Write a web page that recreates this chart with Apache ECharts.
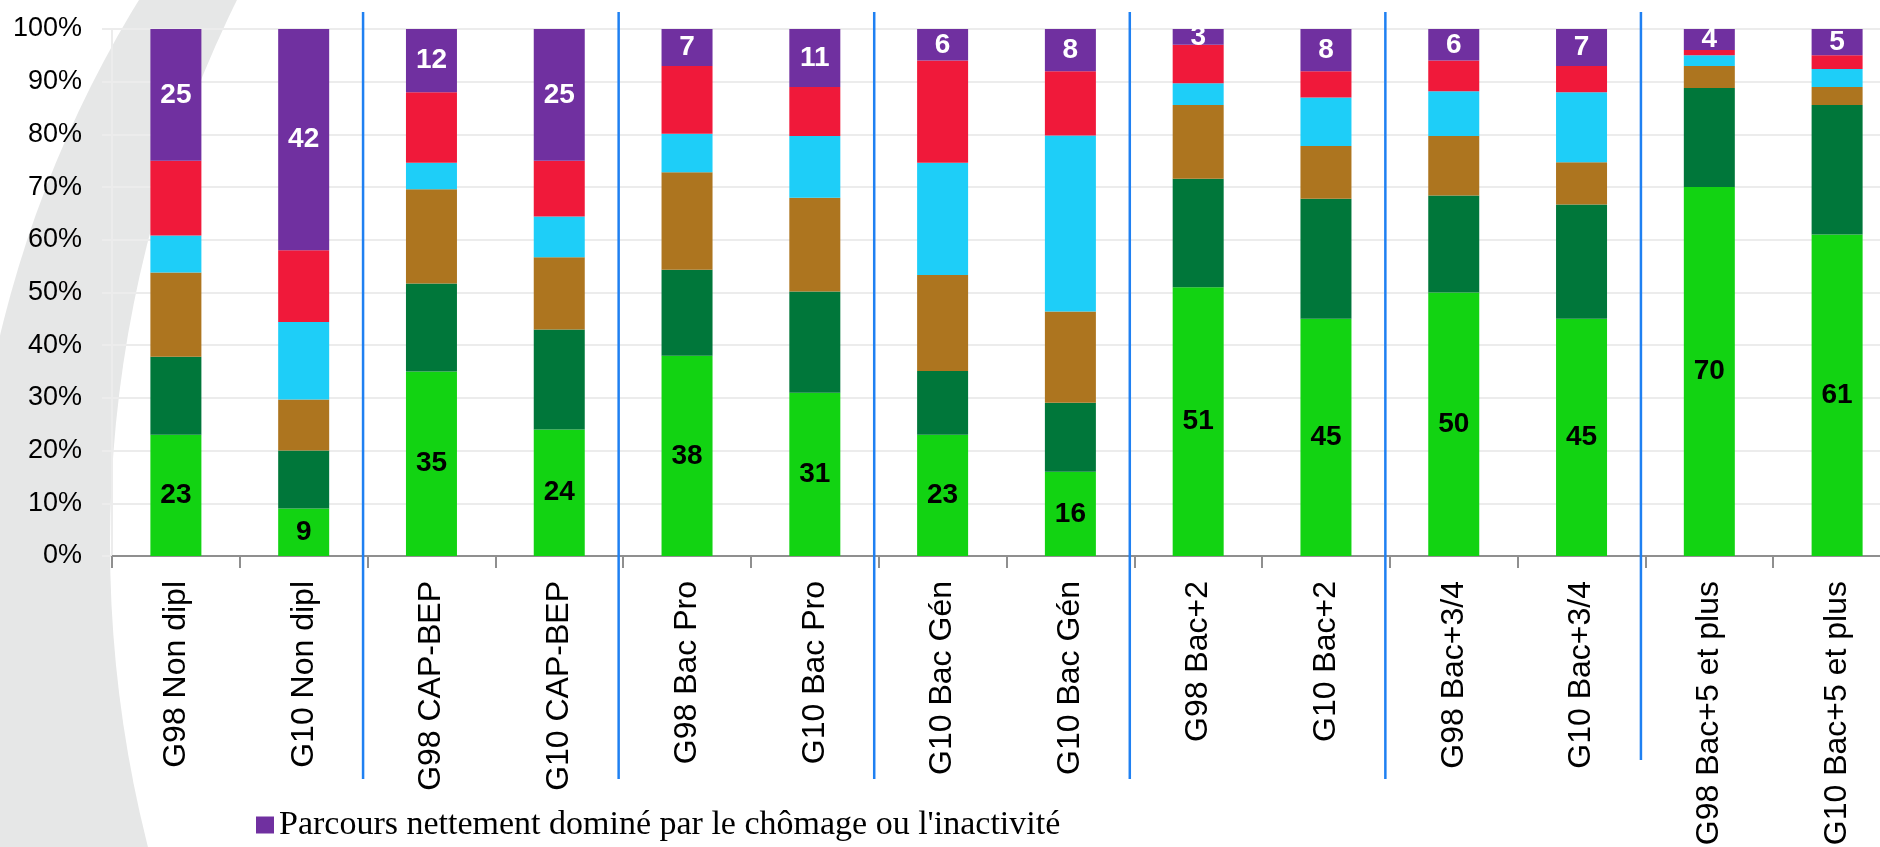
<!DOCTYPE html>
<html>
<head>
<meta charset="utf-8">
<script src="https://cdn.jsdelivr.net/npm/echarts@6/dist/echarts.min.js"></script>
<style>
  html, body { margin: 0; padding: 0; background: #ffffff; }
  #chart { width: 1880px; height: 847px; }
</style>
</head>
<body>
<div id="chart"></div>
<script>
// Diplômes par génération (G98 / G10)
const categories = [
  'G98 Non dipl', 'G10 Non dipl',
  'G98 CAP-BEP', 'G10 CAP-BEP',
  'G98 Bac Pro', 'G10 Bac Pro',
  'G10 Bac Gén', 'G10 Bac Gén',
  'G98 Bac+2', 'G10 Bac+2',
  'G98 Bac+3/4', 'G10 Bac+3/4',
  'G98 Bac+5 et plus', 'G10 Bac+5 et plus'
];

// Parts (%) de chaque type de parcours, du bas vers le haut de chaque barre
const accesRapide   = [23, 9, 35, 24, 38, 31, 23, 16, 51, 45, 50, 45, 70, 61];
const accesProgressif = [14.8, 11.0, 16.7, 19.0, 16.3, 19.2, 12.1, 13.1, 20.6, 22.8, 18.4, 21.7, 18.8, 24.6];
const sortieEmploi  = [16.0, 9.7, 17.9, 13.7, 18.5, 17.8, 18.2, 17.3, 14.0, 10.0, 11.3, 8.0, 4.2, 3.4];
const retourFormation = [7.0, 14.7, 5.0, 7.7, 7.3, 11.7, 21.3, 33.4, 4.1, 9.2, 8.5, 13.3, 2.0, 3.4];
const chomageRecurrent = [14.2, 13.6, 13.4, 10.6, 12.9, 9.3, 19.4, 12.2, 7.3, 5.0, 5.8, 5.0, 1.0, 2.6];
const chomageInactivite = [25, 42, 12, 25, 7, 11, 6, 8, 3, 8, 6, 7, 4, 5];

// Graduations de l'axe des ordonnées
const yTicks = [0, 10, 20, 30, 40, 50, 60, 70, 80, 90, 100];

// Séparateurs entre niveaux de diplôme (après l'indice de catégorie)
const groupBreaks = [1, 3, 5, 7, 9, 11];

const seriesDefs = [
  { name: "Accès rapide et durable à l'emploi", data: accesRapide, color: '#12d312', label: '#000000' },
  { name: "Accès progressif à l'emploi", data: accesProgressif, color: '#00773a' },
  { name: "Sortie de l'emploi", data: sortieEmploi, color: '#ad751f' },
  { name: 'Retour en formation', data: retourFormation, color: '#1ecef8' },
  { name: 'Chômage récurrent', data: chomageRecurrent, color: '#f0193a' },
  { name: "Parcours nettement dominé par le chômage ou l'inactivité", data: chomageInactivite, color: '#7030a0', label: '#ffffff' }
];

const sans = "'Liberation Sans Narrow', 'Arial Narrow', 'Liberation Sans', Arial, sans-serif";

const chart = echarts.init(document.getElementById('chart'), null, { renderer: 'canvas' });

const series = seriesDefs.map(s => ({
  name: s.name,
  type: 'bar',
  stack: 'total',
  barWidth: 51,
  data: s.data,
  itemStyle: { color: s.color },
  label: s.label ? {
    show: true,
    position: 'inside',
    color: s.label,
    fontFamily: sans,
    fontWeight: 'bold',
    fontSize: 28,
    formatter: p => String(Math.round(p.value))
  } : { show: false }
}));

chart.setOption({
  animation: false,
  backgroundColor: '#ffffff',
  grid: { left: 112, top: 29, width: 1789, bottom: 291, containLabel: false, outerBoundsMode: 'none' },
  legend: {
    data: [seriesDefs[5].name],
    left: 251,
    top: 803,
    icon: 'rect',
    itemWidth: 18,
    itemHeight: 17,
    textStyle: { fontFamily: "'Liberation Serif', 'Times New Roman', serif", fontSize: 34, color: '#000000' }
  },
  xAxis: {
    type: 'category',
    data: categories,
    axisLine: { lineStyle: { color: '#8f8f8f', width: 2 } },
    axisTick: { show: true, length: 12, lineStyle: { color: '#8f8f8f', width: 2 } },
    axisLabel: {
      rotate: 90,
      interval: 0,
      margin: 25,
      fontFamily: "'Liberation Sans', Arial, sans-serif",
      fontSize: 32,
      color: '#000000'
    }
  },
  yAxis: {
    type: 'value',
    min: yTicks[0],
    max: yTicks[yTicks.length - 1],
    interval: yTicks[1] - yTicks[0],
    axisLine: { show: true, lineStyle: { color: '#ececec', width: 2 } },
    axisTick: { show: true, length: 10, lineStyle: { color: '#ececec', width: 2 } },
    splitLine: { show: true, lineStyle: { color: '#ececec', width: 2 } },
    axisLabel: {
      margin: 30,
      fontFamily: sans,
      fontSize: 27,
      color: '#000000',
      formatter: '{value}%'
    }
  },
  series: series
});

// Décor : arc gris à gauche, puis séparateurs verticaux bleus entre niveaux de diplôme
const graphics = [
  { type: 'circle', z: -20, silent: true, shape: { cx: 1113, cy: 600, r: 1144 }, style: { fill: '#e6e7e7' } },
  { type: 'circle', z: -19, silent: true, shape: { cx: 1339, cy: 544, r: 1229 }, style: { fill: '#ffffff' } }
];
groupBreaks.forEach((idx, k) => {
  const a = chart.convertToPixel({ xAxisIndex: 0 }, idx);
  const b = chart.convertToPixel({ xAxisIndex: 0 }, idx + 1);
  const x = (a + b) / 2 - 4.5;
  const bottom = k === groupBreaks.length - 1 ? 760 : 779;
  graphics.push({
    type: 'line', z: 50, silent: true,
    shape: { x1: x, y1: 12, x2: x, y2: bottom },
    style: { stroke: '#1f80f2', lineWidth: 2.5 }
  });
});
chart.setOption({ graphic: graphics });
</script>
</body>
</html>
